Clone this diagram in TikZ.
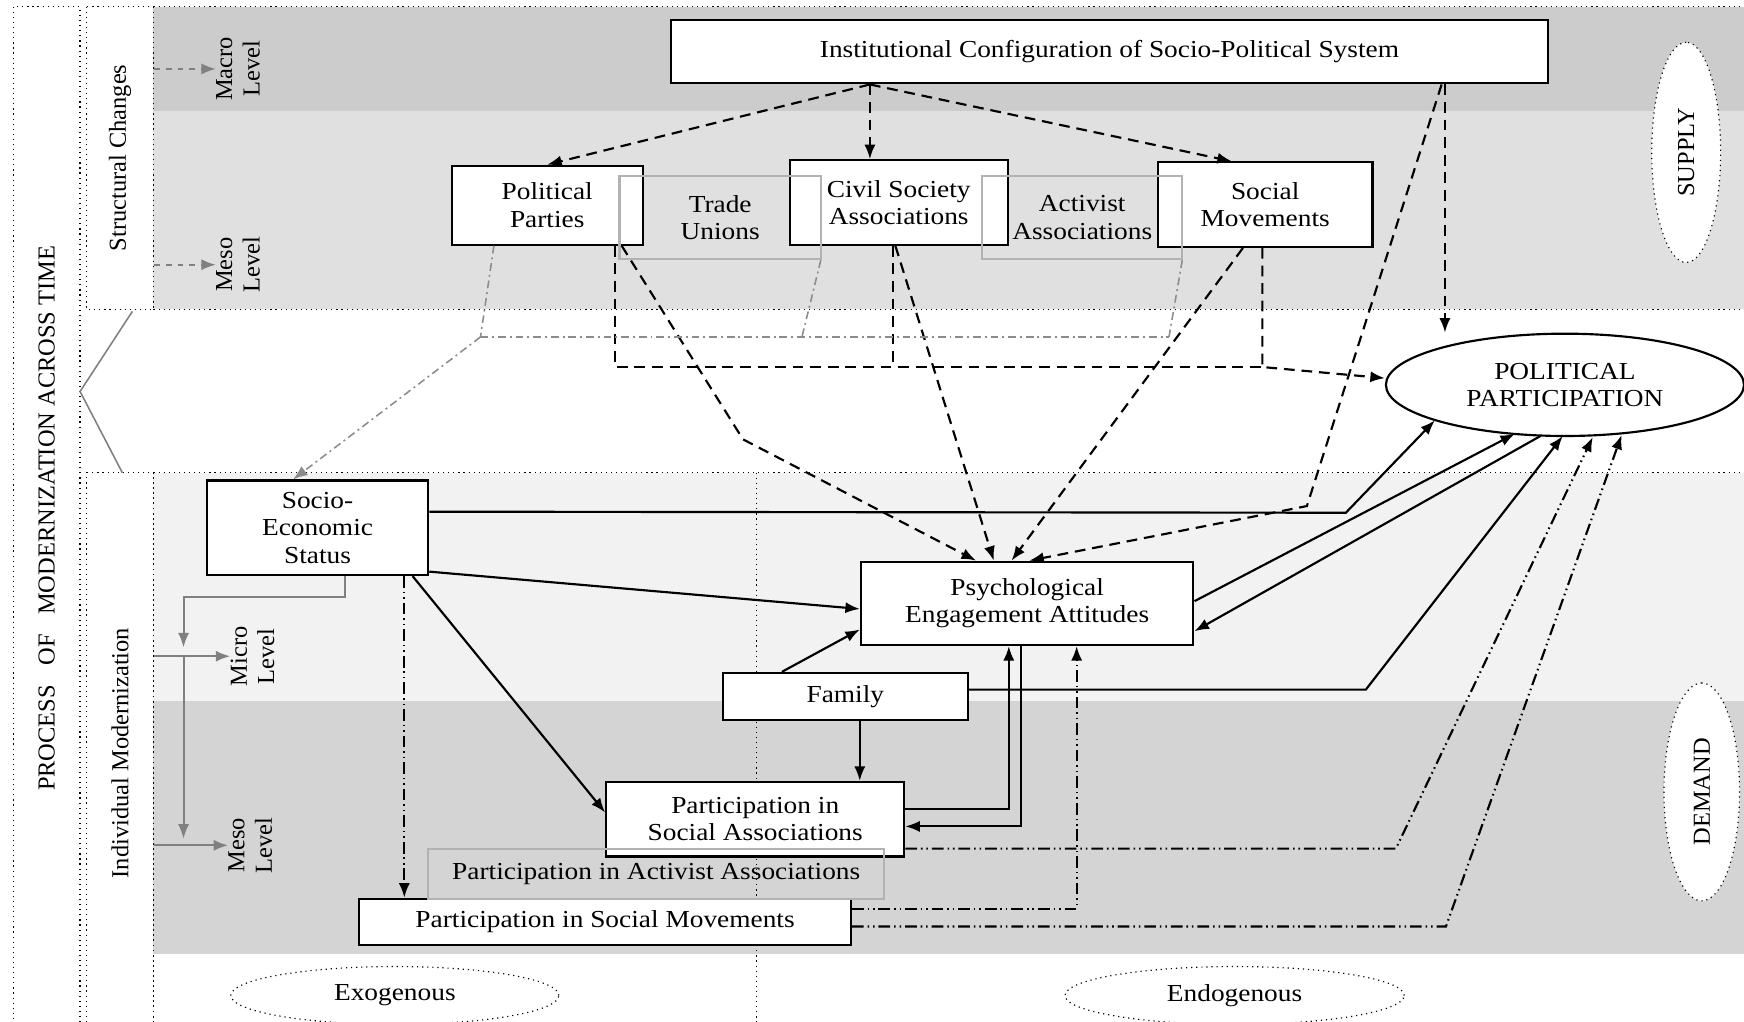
\documentclass[tikz,border=0pt]{standalone}
\usepackage{fontspec}
\setmainfont[FakeStretch=1.12]{Liberation Serif}
\newfontfamily\plainfont{Liberation Serif}
\usetikzlibrary{shapes.geometric,arrows.meta,positioning,calc}

\begin{document}
\begin{tikzpicture}[
  x=0.02cm,
  y=-0.02cm,
  >={Latex[length=2.6mm,width=2mm]},
  font=\fontsize{12.5}{14}\selectfont,
  box/.style={
    rectangle,
    draw=black,
    line width=1.1pt,
    fill=white,
    inner sep=0pt,
    align=center
  },
  ghost/.style={
    rectangle,
    draw=black!30,
    line width=1.1pt,
    inner sep=0pt,
    align=center
  },
  frame/.style={
    rectangle,
    draw=black,
    dotted,
    line width=0.6pt,
    inner sep=0pt,
    rotate=90,
    font=\plainfont\fontsize{12.5}{14}\selectfont
  },
  oval/.style={
    ellipse,
    draw=black,
    dotted,
    line width=0.6pt,
    fill=white,
    inner sep=0pt
  },
  lvl/.style={
    rotate=90,
    align=center,
    inner sep=0pt,
    font=\plainfont\fontsize{12.5}{14}\selectfont
  },
  arrow/.style={
    ->,
    line width=1.1pt
  },
  dline/.style={
    arrow,
    dash pattern=on 5.5pt off 3.5pt
  },
  dotline/.style={
    arrow,
    dash pattern=on 6pt off 2pt on 0.8pt off 2pt on 0.8pt off 2pt
  },
  gline/.style={
    draw=black!45,
    line width=0.8pt,
    dash pattern=on 4pt off 2pt on 1pt off 2pt
  },
  garrow/.style={
    ->,
    draw=black!50,
    line width=1pt
  }
]

  \useasboundingbox (0,0) rectangle (1568,918);

  % Shaded levels
  \fill[black!20] (138,6) rectangle (1568,100);
  \fill[black!12] (138,100) rectangle (1568,278);
  \fill[black!5] (138,425) rectangle (1568,630);
  \fill[black!17] (138,630) rectangle (1568,858);
  \draw[dotted, line width=0.6pt] (138,6) -- (1568,6) (138,278) -- (1568,278)
    (138,425) -- (1568,425) (138,6) -- (138,278) (138,425) -- (138,930)
    (680,425) -- (680,930);

  % Side frames
  \node[frame, minimum width=18.4cm, minimum height=1.2cm] (process) at (42,466)
    {PROCESS\hspace{0.55em} OF\hspace{0.55em} MODERNIZATION ACROSS TIME};
  \node[frame, minimum width=5.44cm, minimum height=1.2cm] (struc) at (108,142) {Structural Changes};
  \node[frame, minimum width=10.1cm, minimum height=1.2cm] (indiv) at (108,677) {Individual Modernization};
  \draw[black!50, line width=0.8pt] (119,280) -- (72,352) -- (110,425);

  % Levels
  \node[lvl] (macro) at (214,62) {Macro\\Level};
  \node[lvl] (mesotop) at (214,238) {Meso\\Level};
  \node[lvl] (micro) at (227,590) {Micro\\Level};
  \node[lvl] (mesobot) at (225,760) {Meso\\Level};

  % Supply side
  \node[box, minimum width=15.78cm, minimum height=1.14cm] (inst) at (997.5,46.5)
    {Institutional Configuration of Socio-Political System};
  \node[box, minimum width=3.44cm, minimum height=1.42cm] (parties) at (492,184.5) {Political\\Parties};
  \node[box, minimum width=3.92cm, minimum height=1.52cm] (civil) at (808,182) {Civil Society\\Associations};
  \node[box, minimum width=3.86cm, minimum height=1.52cm] (socmov) at (1137.5,184) {Social\\Movements};
  \node[ghost, minimum width=3.62cm, minimum height=1.5cm] (unions) at (647.5,195.5) {Trade\\Unions};
  \node[ghost, minimum width=3.6cm, minimum height=1.5cm] (activist) at (973,195.5) {Activist\\Associations};
  \node[oval, rotate=90, minimum width=3.96cm, minimum height=1.24cm,
    font=\plainfont\fontsize{12.5}{14}\selectfont] (supply) at (1516,137) {SUPPLY};

  % Outcome
  \node[ellipse, draw=black, line width=1.1pt, fill=white, inner sep=0pt, align=center,
    minimum width=6.44cm, minimum height=1.84cm] (polpart) at (1407,346) {POLITICAL\\PARTICIPATION};

  % Demand side
  \node[box, minimum width=3.98cm, minimum height=1.7cm] (ses) at (285.5,474.5) {Socio-\\Economic\\Status};
  \node[box, minimum width=5.98cm, minimum height=1.5cm] (psych) at (923.5,542.5) {Psychological\\Engagement Attitudes};
  \node[box, minimum width=4.4cm, minimum height=0.84cm] (family) at (760,626) {Family};
  \node[box, minimum width=5.36cm, minimum height=1.34cm] (psa) at (679,736.5) {Participation in\\Social Associations};
  \node[box, minimum width=8.84cm, minimum height=0.84cm] (psm) at (544,829) {Participation in Social Movements};
  \node[ghost, minimum width=8.2cm, minimum height=0.9cm] (paa) at (590,785.5) {Participation in Activist Associations};
  \node[oval, rotate=90, minimum width=3.92cm, minimum height=1.36cm,
    font=\plainfont\fontsize{12.5}{14}\selectfont] (demand) at (1530,712) {DEMAND};

  \node[oval, minimum width=5.9cm, minimum height=1.04cm] (exo) at (355,895) {Exogenous};
  \node[oval, minimum width=6.1cm, minimum height=1.04cm] (endo) at (1110,895) {Endogenous};

  % Level arrows
  \draw[garrow, dashed] (struc.south |- macro.north) -- (macro.north);
  \draw[garrow, dashed] (struc.south |- mesotop.north) -- (mesotop.north);
  \draw[garrow] (indiv.south |- micro.north) -- (micro.north);
  \draw[garrow] (indiv.south |- mesobot.north) -- (mesobot.north);
  \coordinate (gcol) at (165,537);
  \draw[garrow] ($(ses.south)+(25,0)$) |- (gcol) -- ($(gcol |- micro.north)+(0,-8)$);
  \draw[garrow] (gcol |- micro.north) -- ($(gcol |- mesobot.north)+(0,-6)$);

  % From the institutions
  \coordinate (fork) at ($(inst.south west)+(180,0)$);
  \coordinate (ivert) at ($(inst.south west)+(697,0)$);
  \coordinate (ibend) at (1175,455);
  \draw[dline] (fork) -- (parties.north);
  \draw[dline] (fork) -- (fork |- civil.north);
  \draw[dline] (fork) -- ($(socmov.north)+(-30,0)$);
  \draw[dline] (ivert) -- (ivert |- polpart.north);
  \draw[dline] ($(ivert)+(-3,0)$) -- (ibend) -- ($(psych.north)+(2,0)$);

  % Meso organisations to attitudes
  \coordinate (pbend) at (668,395);
  \draw[dline] ($(parties.south east)+(-20,0)$) -- (pbend) -- ($(psych.north)+(-46,0)$);
  \draw[dline] ($(civil.south)+(-3,0)$) -- ($(psych.north)+(-30,0)$);
  \draw[dline] ($(socmov.south)+(-20,0)$) -- ($(psych.north)+(-14,0)$);

  % Meso organisations to participation
  \coordinate (pjoin) at (1135,330);
  \draw[dline, -] ($(parties.south east)+(-26,0)$) |- (pjoin);
  \draw[dline, -] ($(civil.south)+(-5,0)$) coordinate (cs) -- (cs |- pjoin);
  \draw[dline] ($(socmov.south)+(-2.5,0)$) -- (pjoin) -- ($(polpart.west)+(0,-6)$);

  % Meso organisations to status
  \coordinate (gl) at (432,303);
  \coordinate (gm) at (721,303);
  \coordinate (gr) at (1051,303);
  \draw[gline] ($(parties.south west)+(39,0)$) -- (gl);
  \draw[gline] ($(unions.south east)+(-1,0)$) -- (gm);
  \draw[gline] ($(activist.south east)+(-1,0)$) -- (gr);
  \draw[gline] (gl) -- (gr);
  \draw[gline, ->] (gl) -- ($(ses.north)+(-22,0)$);

  % Status
  \coordinate (sbend) at (1210,461);
  \draw[arrow] ($(ses.north east)+(0,29)$) -- (sbend) -- ($(polpart.center)+(-117,32)$);
  \draw[arrow] ($(ses.south east)+(0,-4)$) -- ($(psych.west)+(0,5)$);
  \draw[arrow] ($(ses.south east)+(-15,0)$) -- ($(psa.west)+(0,-6)$);
  \draw[dotline] ($(ses.south)+(78,0)$) coordinate (sd) -- (sd |- psm.north);

  % Attitudes and participation
  \draw[arrow] ($(psych.east)+(0,-2)$) -- ($(polpart.center)+(-45,44)$);
  \draw[arrow] ($(polpart.center)+(-22,46)$) -- ($(psych.east)+(0,25)$);

  % Family
  \coordinate (fbend) at (1228,620);
  \draw[arrow] ($(family.north)+(-57,0)$) -- ($(psych.south west)+(0,-15)$);
  \draw[arrow] ($(family.east)+(0,-6)$) -- (fbend) -- ($(polpart.center)+(-2,46)$);
  \draw[arrow] ($(family.south)+(13,0)$) coordinate (fs) -- (fs |- psa.north);

  % Associations and movements
  \draw[arrow] ($(psa.east)+(0,-9.5)$) -| ($(psych.south)+(-16.5,0)$);
  \draw[arrow] ($(psych.south)+(-5.5,0)$) |- ($(psa.east)+(0,6.5)$);
  \draw[dotline] ($(psm.north east)+(0,10)$) -| ($(psych.south)+(44.5,0)$);
  \coordinate (abend) at (1255,763);
  \coordinate (mbend) at (1300,833);
  \draw[dotline] ($(psa.east)+(0,26.5)$) -- (abend) -- ($(polpart.center)+(25,47)$);
  \draw[dotline] ($(psm.east)+(0,4)$) -- (mbend) -- ($(polpart.center)+(51,45)$);

\end{tikzpicture}
\end{document}
